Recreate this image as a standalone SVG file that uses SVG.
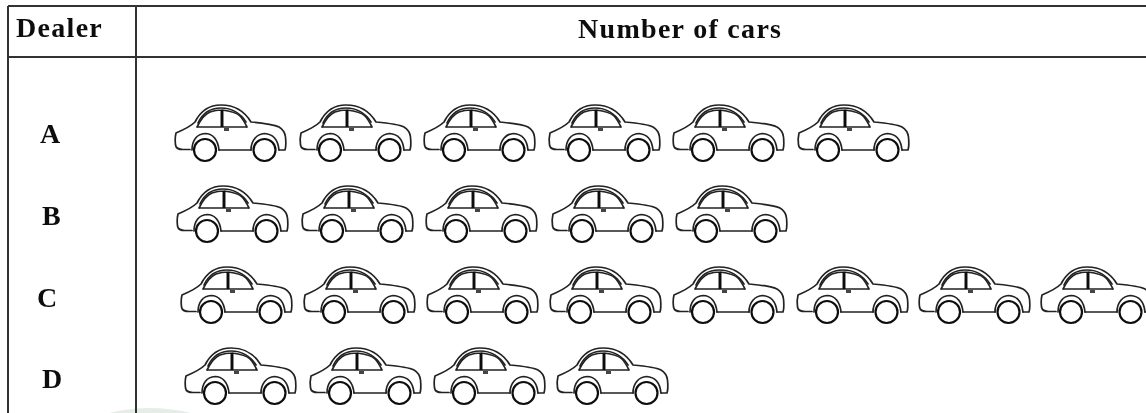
<svg xmlns="http://www.w3.org/2000/svg" width="1146" height="413" viewBox="0 0 1146 413">
<style>
.g{stroke:#333;fill:none;stroke-width:2}
.t{font-family:"Liberation Serif",serif;font-weight:bold;fill:#111;font-size:28px}
.c{fill:none;stroke:#222;stroke-width:1.7;stroke-linejoin:round;stroke-linecap:round}
.w{fill:#fff;stroke:#111;stroke-width:2.200}
.s{filter:url(#soft)}
</style>
<defs>
<filter id="soft" x="-5%" y="-5%" width="110%" height="110%"><feGaussianBlur stdDeviation="0.45"/></filter>
<g id="car">
<path class="c" d="M190 149.500H183C178 149.500 176 148 175.500 145C175 141 175 137 176 133C183 130 190 127 195 122C201 110 210 105 221 105C235 105 245 112 251 122C262 123 273 124 279 127C284 130 285 133 285.500 137C286 142 286 147 285 150H279M219 150H251"/>
<path class="c" d="M198 123C203 112 212 108 221 108C232 108 241 114 246 122"/>
<path class="c" d="M197 127C201 119 205 114 210 112C214 110.500 218 110 222 110M222 110C230 111 236 112 240 116C243 119 245 123 247 127M197 127H247"/>
<path d="M222 110V127" stroke="#111" stroke-width="3" fill="none"/>
<rect x="224" y="128" width="5" height="3" fill="#444"/>
<path class="c" d="M192 150C192 140 197 134 205 133.500C213 133.500 218 140 219 150M251 150C251 140 257 134 264.500 133.500C273 134 278 140 279 150"/>
<circle class="w" cx="205" cy="150" r="11"/>
<circle class="w" cx="264.500" cy="150" r="11"/>
</g>
</defs>
<rect width="1146" height="413" fill="#fff"/>
<ellipse cx="150" cy="508" rx="130" ry="100" fill="#e6ece8"/>
<g id="grid" class="s">
<path class="g" d="M8 6H1146M8 57H1146M8 6V413M136 6V413"/>
</g>
<g id="labels" class="s">
<text class="t" x="16" y="37" letter-spacing="1.300">Dealer</text>
<text class="t" x="578" y="38" letter-spacing="1.300">Number of cars</text>
<text class="t" x="40" y="143">A</text>
<text class="t" x="42" y="225">B</text>
<text class="t" x="37" y="307">C</text>
<text class="t" x="42" y="388">D</text>
</g>
<g id="row-a" class="s">
<use href="#car"/><use href="#car" x="125"/><use href="#car" x="249"/><use href="#car" x="374"/><use href="#car" x="498"/><use href="#car" x="623"/>
</g>
<g id="row-b" class="s">
<use href="#car" x="2" y="81"/><use href="#car" x="127" y="81"/><use href="#car" x="251" y="81"/><use href="#car" x="377" y="81"/><use href="#car" x="501" y="81"/>
</g>
<g id="row-c" class="s">
<use href="#car" x="6" y="162"/><use href="#car" x="129" y="162"/><use href="#car" x="252" y="162"/><use href="#car" x="375" y="162"/><use href="#car" x="498" y="162"/><use href="#car" x="622" y="162"/><use href="#car" x="744" y="162"/><use href="#car" x="866" y="162"/>
</g>
<g id="row-d" class="s">
<use href="#car" x="10" y="243"/><use href="#car" x="135" y="243"/><use href="#car" x="259" y="243"/><use href="#car" x="382" y="243"/>
</g>
</svg>
